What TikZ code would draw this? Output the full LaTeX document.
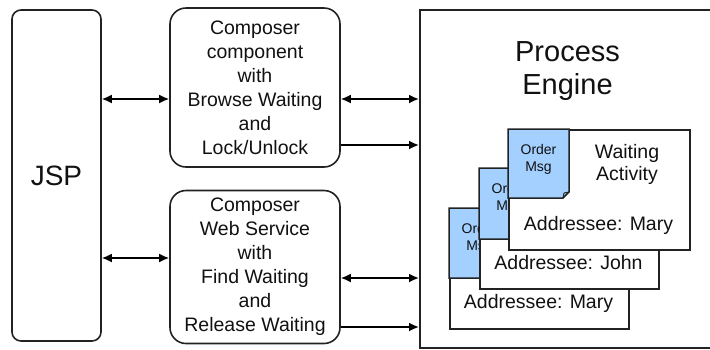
\documentclass[tikz,border=0pt]{standalone}
\usepackage{fontspec}
\setmainfont{Liberation Sans}
\usetikzlibrary{arrows.meta}
\definecolor{msgblue}{HTML}{A3D0FF}
\definecolor{edge}{HTML}{222222}
\definecolor{txt}{HTML}{111111}
\begin{document}
\begin{tikzpicture}[x=1pt,y=-1pt,
  box/.style={draw=edge,line width=1.6pt,rectangle,inner sep=0pt,align=center,text=txt},
  cardbox/.style={draw=edge,line width=1.5pt,fill=white,rectangle,inner sep=0pt,anchor=north west},
  note/.style={draw=edge,line width=1.5pt,fill=msgblue,line join=miter},
  foldline/.style={draw=edge,line width=0.9pt},
  ordertxt/.style={font=\fontsize{14}{16.5}\selectfont,align=center,text=txt,inner sep=0pt},
  addr/.style={font=\fontsize{19.5}{23}\selectfont,text=txt,inner sep=0pt},
  conn/.style={line width=1.8pt,black},
  both/.style={conn,{Latex[length=10pt,width=9pt]}-{Latex[length=10pt,width=9pt]}},
  one/.style={conn,-{Latex[length=10pt,width=9pt]}}]
\useasboundingbox (0,0) rectangle (710,349);
\fill[white] (0,0) rectangle (710,349);

% main boxes
\node[box, rounded corners=9pt, minimum width=89pt, minimum height=331pt,
      font=\fontsize{28}{32}\selectfont] (jsp) at (56.5,175.5) {JSP};
\node[box, rounded corners=16pt, minimum width=170pt, minimum height=159pt,
      font=\fontsize{19.5}{24}\selectfont] (comp) at (255,87.5)
      {Composer\\component\\with\\Browse Waiting\\and\\Lock/Unlock};
\node[box, rounded corners=16pt, minimum width=170pt, minimum height=153pt,
      font=\fontsize{19.5}{24}\selectfont] (ws) at (255,267)
      {Composer\\Web Service\\with\\Find Waiting\\and\\Release Waiting};
\begin{scope}
  \clip (0,0) rectangle (710,349);
  \node[box, anchor=north west, minimum width=330pt, minimum height=338pt] (pe) at (419,9) {};
\end{scope}
\node[font=\fontsize{29}{33}\selectfont, align=center, text=txt] (pet) at (567.5,71.5) {Process\\Engine};

% cards: back
\node[cardbox, minimum width=179pt, minimum height=120pt] (c1) at (449,208) {};
\draw[note] (449,208) -- (510,208) -- (510,272) -- (504,278) -- (449,278) -- cycle;
\node[ordertxt] (o1) at (479.5,238.5) {Order\\Msg};
\node[addr] (a1) at (538.5,303) {Addressee: Mary};
% middle
\node[cardbox, minimum width=179pt, minimum height=120pt] (c2) at (479,168) {};
\draw[note] (479,168) -- (540,168) -- (540,233) -- (534,239) -- (479,239) -- cycle;
\node[ordertxt] (o2) at (509.5,198.5) {Order\\Msg};
\node[addr] (a2) at (568.5,263) {Addressee: John};
% front
\node[cardbox, minimum width=181pt, minimum height=120pt] (c3) at (508,129) {};
\draw[note] (508,129) -- (569,129) -- (569,192) -- (563,198) -- (508,198) -- cycle;
\draw[foldline] (563,198) -- (564,193) -- (569,192);
\node[ordertxt] (o3) at (538.5,159.5) {Order\\Msg};
\node[font=\fontsize{19.5}{22}\selectfont, align=center, text=txt] (wa) at (627,164) {Waiting\\Activity};
\node[addr] (a3) at (598.5,225) {Addressee: Mary};

% connectors
\coordinate (r1) at (0,99);
\coordinate (r2) at (0,145);
\coordinate (r3) at (0,258);
\coordinate (r4) at (0,278);
\coordinate (r5) at (0,327);
\draw[both] (jsp.east |- r1) -- (comp.west |- r1);
\draw[both] (jsp.east |- r3) -- (ws.west |- r3);
\draw[both] (comp.east |- r1) -- (pe.west |- r1);
\draw[one] (comp.east |- r2) -- (pe.west |- r2);
\draw[both] (ws.east |- r4) -- (pe.west |- r4);
\draw[one] (ws.east |- r5) -- (pe.west |- r5);
\end{tikzpicture}
\end{document}
